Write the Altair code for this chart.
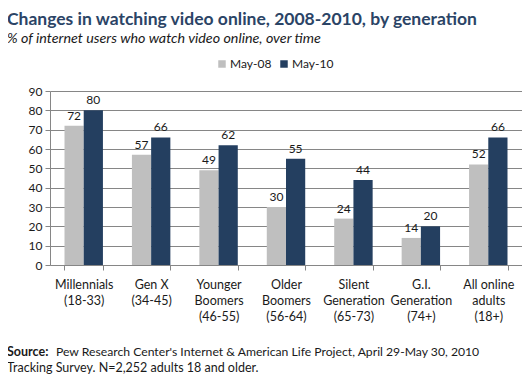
import altair as alt
import pandas as pd

categories = ["Millennials|(18-33)", "Gen X|(34-45)", "Younger|Boomers|(46-55)",
              "Older|Boomers|(56-64)", "Silent|Generation|(65-73)", "G.I.|Generation|(74+)",
              "All online|adults|(18+)"]
may08 = [72, 57, 49, 30, 24, 14, 52]
may10 = [80, 66, 62, 55, 44, 20, 66]
series = ["May-08", "May-10"]
colors = ["#BFBFBF", "#243F60"]
y_ticks = [0, 10, 20, 30, 40, 50, 60, 70, 80, 90]

title = "Changes in watching video online, 2008-2010, by generation"
subtitle = "% of internet users who watch video online, over time"
source_bold = "Source:"
source_1 = "Pew Research Center's Internet & American Life Project, April 29-May 30, 2010"
source_2 = "Tracking Survey. N=2,252 adults 18 and older."

rows = []
for c, a, b in zip(categories, may08, may10):
    rows.append({"cat": c, "series": series[0], "value": a})
    rows.append({"cat": c, "series": series[1], "value": b})
df = pd.DataFrame(rows)

FONT = "Lato"
W, H = 472, 174

x = alt.X("cat:N", sort=categories, title=None,
          scale=alt.Scale(paddingInner=0.43, paddingOuter=0.215),
          axis=alt.Axis(labelExpr="split(datum.label, '|')", labelAngle=0,
                        tickBand="extent", domainColor="#868686", tickColor="#868686",
                        tickSize=5, labelFont=FONT, labelFontSize=12.5, labelColor="#1a1a1a",
                        labelPadding=8, labelLineHeight=16, grid=False, labelBaseline="top"))
xo = alt.XOffset("series:N", sort=series)
y = alt.Y("value:Q", title=None,
          scale=alt.Scale(domain=[0, 90], nice=False),
          axis=alt.Axis(values=y_ticks, gridColor="#868686", labelOverlap=False,
                        domainColor="#868686", tickColor="#868686", tickSize=5,
                        labelFont=FONT, labelFontSize=12, labelColor="#1a1a1a",
                        labelPadding=3))

base = alt.Chart(df)
bars = base.mark_bar().encode(
    x=x, xOffset=xo, y=y,
    color=alt.Color("series:N", sort=series, title=None,
                    scale=alt.Scale(domain=series, range=colors),
                    legend=alt.Legend(orient="none", legendX=166, legendY=-33,
                                      direction="horizontal", symbolType="square",
                                      symbolSize=56, symbolStrokeWidth=0,
                                      labelFont=FONT, labelFontSize=12,
                                      labelColor="#1a1a1a", columnPadding=6,
                                      labelOffset=2)),
)
labels = base.mark_text(baseline="bottom", dy=-3, font=FONT, fontSize=12,
                        color="#1a1a1a").encode(
    x=x, xOffset=xo, y=y, text="value:Q")

def txt(s, xv, yv, **kw):
    return alt.Chart(pd.DataFrame({"t": [s]})).mark_text(
        align="left", baseline="alphabetic", font=FONT, **kw).encode(
        x=alt.value(xv), y=alt.value(yv), text="t:N")

t1 = txt(title, -43, -66, fontSize=17.5, fontWeight="bold", color="#2B4466")
t2 = txt(subtitle, -43, -48, fontSize=14.3, fontStyle="italic", color="#1a1a1a")
s0 = txt(source_bold, -43, 265, fontSize=12.5, fontWeight="bold", color="#1a1a1a")
s1 = txt(source_1, 6, 265, fontSize=12.2, color="#1a1a1a")
s2 = txt(source_2, -43, 281, fontSize=12.5, color="#1a1a1a")

chart = alt.layer(bars, labels, t1, t2, s0, s1, s2).properties(
    width=W, height=H,
    autosize=alt.AutoSizeParams(type="none"),
    padding={"left": 42, "top": 83, "right": 0, "bottom": 109},
).configure_view(stroke=None)

chart.save("out.html", embed_options={"renderer": "svg", "actions": False})
